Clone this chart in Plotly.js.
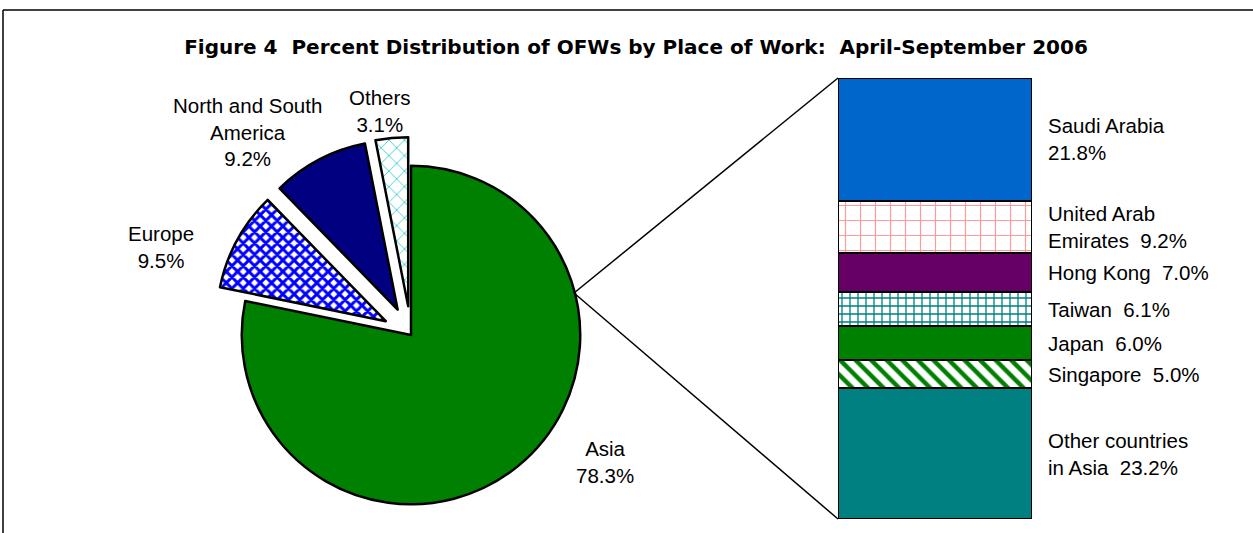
<!DOCTYPE html>
<html><head><meta charset="utf-8">
<script src="https://cdn.plot.ly/plotly-3.0.1.min.js"></script>
<style>html,body{margin:0;padding:0;background:#fff;overflow:hidden}</style>
</head><body><div id="chart" style="width:1253px;height:533px"></div>
<script>
// ---- data ----
const regions = ["Asia", "Europe", "North and South America", "Others"];
const regionPct = [78.3, 9.5, 9.2, 3.1];
const regionLabels = ["Asia<br>78.3%", "Europe<br>9.5%", "North and South<br>America<br>9.2%", "Others<br>3.1%"];

// bottom to top of stacked bar
const asiaCountries = ["Other countries in Asia", "Singapore", "Japan", "Taiwan", "Hong Kong", "United Arab Emirates", "Saudi Arabia"];
const asiaPct = [23.2, 5.0, 6.0, 6.1, 7.0, 9.2, 21.8];
const asiaLabels = ["Other countries<br>in Asia  23.2%", "Singapore  5.0%", "Japan  6.0%", "Taiwan  6.1%", "Hong Kong  7.0%", "United Arab<br>Emirates  9.2%", "Saudi Arabia<br>21.8%"];

// ---- styles ----
const W = 1253, H = 533;
const FONT = "Arial, 'Liberation Sans', Helvetica, sans-serif";
const TITLE_FONT = "'DejaVu Sans', Arial, sans-serif";
const px = v => v / W, py = v => 1 - v / H;

const pieColors = ["#008000", "#ffffff", "#000080", "#ffffff"];
const piePattern = {
  shape: ["", "x", "", "x"],
  fgcolor: ["#008000", "#0000ff", "#000080", "#33cccc"],
  bgcolor: ["#008000", "#ffffff", "#000080", "#ffffff"],
  size: [8, 8, 8, 11],
  solidity: [0.3, 0.6, 0.3, 0.15],
  fillmode: "replace"
};
const piePull = [0, 0.17, 0.17, 0.17];
const pieLabelPos = [[605, 462], [161, 247], [247, 132], [380, 111]];

const barStyles = [
  {color: "#008080"},
  {color: "#ffffff", pattern: {shape: "\\", fgcolor: "#008000", bgcolor: "#ffffff", size: 11, solidity: 0.4}},
  {color: "#008000"},
  {color: "#ffffff", pattern: {shape: "+", fgcolor: "#008080", bgcolor: "#ffffff", size: 8, solidity: 0.3}},
  {color: "#660066"},
  {color: "#ffffff", pattern: {shape: "+", fgcolor: "#ff9999", bgcolor: "#ffffff", size: 15, solidity: 0.15}},
  {color: "#0066cc"}
];

const traces = [];
traces.push({
  type: "pie",
  values: regionPct,
  labels: regions,
  sort: false,
  direction: "clockwise",
  rotation: 0,
  pull: piePull,
  textinfo: "none",
  hoverinfo: "skip",
  showlegend: false,
  marker: {colors: pieColors, line: {color: "#000000", width: 2.5}, pattern: piePattern},
  domain: {x: [px(411 - 198), px(411 + 198)], y: [0, 396 / H]}
});

asiaCountries.forEach((name, i) => {
  traces.push({
    type: "bar",
    name: name,
    x: [0],
    y: [asiaPct[i]],
    width: [1],
    xaxis: "x", yaxis: "y",
    showlegend: false,
    hoverinfo: "skip",
    marker: Object.assign({line: {color: "#000000", width: 2}}, barStyles[i])
  });
});

const total = asiaPct.reduce((a, b) => a + b, 0);
const annotations = [];
let cum = 0;
asiaPct.forEach((v, i) => {
  annotations.push({
    xref: "paper", yref: "y", x: px(1046), y: cum + v / 2,
    xanchor: "left", yanchor: "middle", align: "left", showarrow: false,
    text: asiaLabels[i], font: {family: FONT, size: 20.5, color: "#000"}
  });
  cum += v;
});
regionLabels.forEach((t, i) => {
  annotations.push({
    xref: "paper", yref: "paper", x: px(pieLabelPos[i][0]), y: py(pieLabelPos[i][1]),
    xanchor: "center", yanchor: "middle", align: "center", showarrow: false,
    text: t, font: {family: FONT, size: 20.5, color: "#000"}
  });
});

const shapes = [
  {type: "line", xref: "paper", yref: "paper", x0: px(3), y0: 0, x1: px(3), y1: py(10), line: {color: "#000", width: 1.5}},
  {type: "line", xref: "paper", yref: "paper", x0: px(3), y0: py(10), x1: 1, y1: py(10), line: {color: "#000", width: 1.5}},
  {type: "line", xref: "paper", yref: "paper", x0: px(574), y0: py(293), x1: px(838), y1: py(78), line: {color: "#000", width: 1.5}},
  {type: "line", xref: "paper", yref: "paper", x0: px(574), y0: py(293), x1: px(838), y1: py(519), line: {color: "#000", width: 1.5}}
];

const layout = {
  width: W, height: H,
  margin: {l: 0, r: 0, t: 0, b: 0},
  paper_bgcolor: "#ffffff", plot_bgcolor: "rgba(0,0,0,0)",
  barmode: "stack",
  showlegend: false,
  hovermode: false,
  title: {
    text: "<b>Figure 4  Percent Distribution of OFWs by Place of Work:  April-September 2006</b>",
    x: px(636), xanchor: "center", xref: "paper",
    y: py(47), yanchor: "middle", yref: "paper",
    font: {family: TITLE_FONT, size: 20, color: "#000"}
  },
  xaxis: {domain: [px(838), px(1032)], range: [-0.5, 0.5], visible: false, fixedrange: true},
  yaxis: {domain: [1 - 519 / H, 1 - 78 / H], range: [0, total], visible: false, fixedrange: true},
  annotations: annotations,
  shapes: shapes
};

Plotly.newPlot("chart", traces, layout, {displayModeBar: false, staticPlot: true});
</script>
</body></html>
